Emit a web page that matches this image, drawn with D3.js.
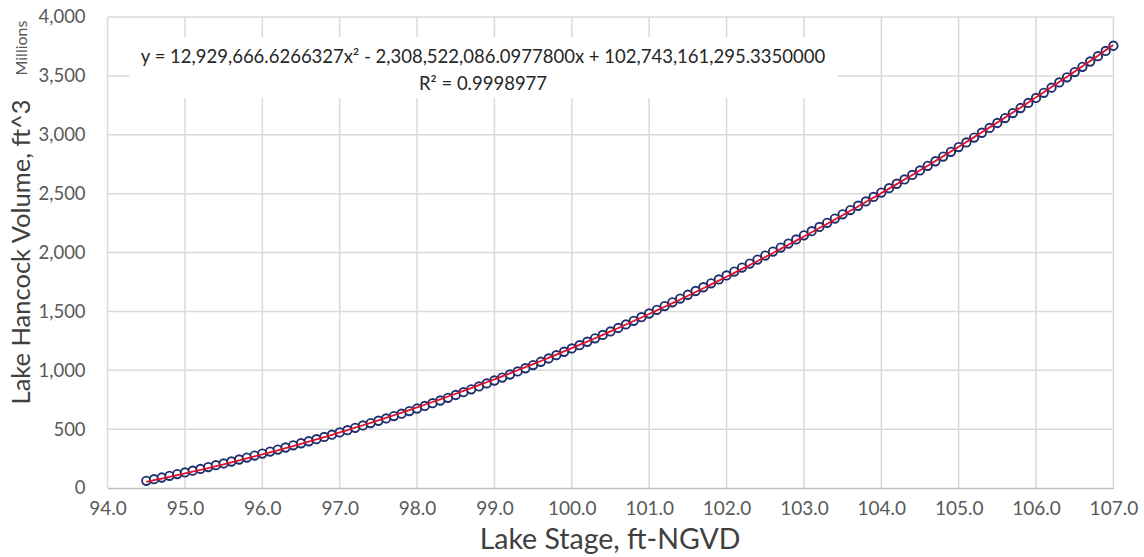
<!DOCTYPE html>
<html>
<head>
<meta charset="utf-8">
<script src="https://cdn.jsdelivr.net/npm/d3@7"></script>
<style>
  body { margin: 0; background: #fff; }
  text { font-family: Lato, "Open Sans", sans-serif; }
</style>
</head>
<body>
<div id="chart"></div>
<script>
// stage (ft-NGVD) of the first point, step between points
var stageStart = 94.5,
    stageStep = 0.1;

// lake volume, millions of ft^3 (one point per 0.1 ft)
var volume = [
  61, 75, 89, 103, 118, 132, 147, 162, 178, 194,
  209, 225, 242, 258, 275, 292, 309, 326, 344, 362,
  380, 397, 415, 434, 453, 472, 491, 511, 531, 551,
  571, 591, 611, 631, 653, 675, 697, 720, 743, 766,
  790, 814, 838, 863, 888, 913, 938, 964, 990, 1017,
  1044, 1072, 1100, 1128, 1157, 1185, 1213, 1242, 1271, 1300,
  1330, 1359, 1389, 1420, 1451, 1482, 1513, 1545, 1577, 1609,
  1641, 1673, 1705, 1738, 1771, 1805, 1838, 1872, 1906, 1940,
  1974, 2008, 2042, 2076, 2111, 2146, 2181, 2217, 2252, 2288,
  2324, 2360, 2397, 2434, 2472, 2509, 2546, 2584, 2621, 2659,
  2697, 2736, 2775, 2815, 2855, 2895, 2935, 2976, 3017, 3058,
  3100, 3142, 3184, 3227, 3270, 3313, 3356, 3400, 3444, 3488,
  3532, 3577, 3622, 3667, 3712, 3756
];

// trendline coefficients as printed on the chart (ft^3)
var coefA = 12929666.6266327,
    coefB = -2308522086.0977800,
    coefC = 102743161295.3350000;

var xTicks = [94, 95, 96, 97, 98, 99, 100, 101, 102, 103, 104, 105, 106, 107];
var yTicks = [0, 500, 1000, 1500, 2000, 2500, 3000, 3500, 4000];

var eqLine1 = "y = 12,929,666.6266327x² - 2,308,522,086.0977800x + 102,743,161,295.3350000";
var eqLine2 = "R² = 0.9998977";

var width = 1144,
    height = 557;

var margin = {left: 107.6, right: width - 1113.4, top: 17, bottom: height - 488};

var svg = d3.select("#chart")
  .append("svg")
  .attr("width", width)
  .attr("height", height);

var points = volume.map(function(v, i) {
  return {x: +(stageStart + i * stageStep).toFixed(1), y: v};
});

var x = d3.scaleLinear()
  .domain([94, 107])
  .range([margin.left, width - margin.right]);

var y = d3.scaleLinear()
  .domain([0, 4000])
  .range([height - margin.bottom, margin.top]);

// vertical grid
svg.append("g")
  .selectAll("line")
  .data(xTicks)
  .enter().append("line")
  .attr("x1", function(d) { return x(d); })
  .attr("x2", function(d) { return x(d); })
  .attr("y1", y(0))
  .attr("y2", y(4000))
  .attr("stroke", "#d9d9d9")
  .attr("stroke-width", 1.5);

// horizontal grid
svg.append("g")
  .selectAll("line")
  .data(yTicks.slice(1))
  .enter().append("line")
  .attr("x1", x(94))
  .attr("x2", x(107))
  .attr("y1", function(d) { return y(d); })
  .attr("y2", function(d) { return y(d); })
  .attr("stroke", "#d9d9d9")
  .attr("stroke-width", 1.5);

// x axis
var xAxis = svg.append("g")
  .attr("transform", "translate(0," + y(0) + ")")
  .call(d3.axisBottom(x).tickValues(xTicks).tickSize(0).tickPadding(14)
    .tickFormat(d3.format(".1f")));
xAxis.select(".domain").attr("stroke", "#bfbfbf").attr("stroke-width", 1.5);
xAxis.selectAll("text")
  .attr("fill", "#595959")
  .attr("font-size", 19)
  .style("font-size", "19px");

// y axis
var yAxis = svg.append("g")
  .attr("transform", "translate(" + (x(94) - 22) + ",0)")
  .call(d3.axisLeft(y).tickValues(yTicks).tickSize(0).tickPadding(0)
    .tickFormat(d3.format(",")));
yAxis.select(".domain").remove();
yAxis.selectAll("text")
  .attr("fill", "#595959")
  .attr("font-size", 18.5)
  .style("font-size", "18.5px");

// axis titles
svg.append("text")
  .attr("x", 610)
  .attr("y", 549)
  .attr("text-anchor", "middle")
  .attr("fill", "#404040")
  .style("font-size", "28.5px")
  .text("Lake Stage, ft-NGVD");

svg.append("text")
  .attr("transform", "translate(30,252) rotate(-90)")
  .attr("text-anchor", "middle")
  .attr("fill", "#404040")
  .style("font-size", "25.5px")
  .text("Lake Hancock Volume, ft^3");

// units note above the value axis title
svg.append("text")
  .attr("transform", "translate(27,48) rotate(-90)")
  .attr("text-anchor", "middle")
  .attr("fill", "#595959")
  .style("font-size", "16px")
  .text("Millions");

// data markers
svg.append("g")
  .selectAll("circle")
  .data(points)
  .enter().append("circle")
  .attr("cx", function(d) { return x(d.x); })
  .attr("cy", function(d) { return y(d.y); })
  .attr("r", 4.2)
  .attr("fill", "#fff")
  .attr("stroke", "#1f2f6b")
  .attr("stroke-width", 1.9);

// polynomial trendline (drawn over the markers, like Excel)
var trend = points.map(function(d) {
  return {x: d.x, y: (coefA * d.x * d.x + coefB * d.x + coefC) / 1e6};
});

svg.append("path")
  .datum(trend)
  .attr("fill", "none")
  .attr("stroke", "#e0102a")
  .attr("stroke-width", 1.8)
  .attr("d", d3.line()
    .x(function(d) { return x(d.x); })
    .y(function(d) { return y(d.y); })
    .curve(d3.curveMonotoneX));

// equation label with white box
var eq = svg.append("g");
eq.append("rect")
  .attr("x", 129)
  .attr("y", 37)
  .attr("width", 709)
  .attr("height", 61)
  .attr("fill", "#fff");
eq.append("text")
  .attr("x", 483)
  .attr("y", 63)
  .attr("text-anchor", "middle")
  .attr("fill", "#262626")
  .style("font-size", "18.5px")
  .text(eqLine1);
eq.append("text")
  .attr("x", 483)
  .attr("y", 90)
  .attr("text-anchor", "middle")
  .attr("fill", "#262626")
  .style("font-size", "18.5px")
  .text(eqLine2);
</script>
</body>
</html>
